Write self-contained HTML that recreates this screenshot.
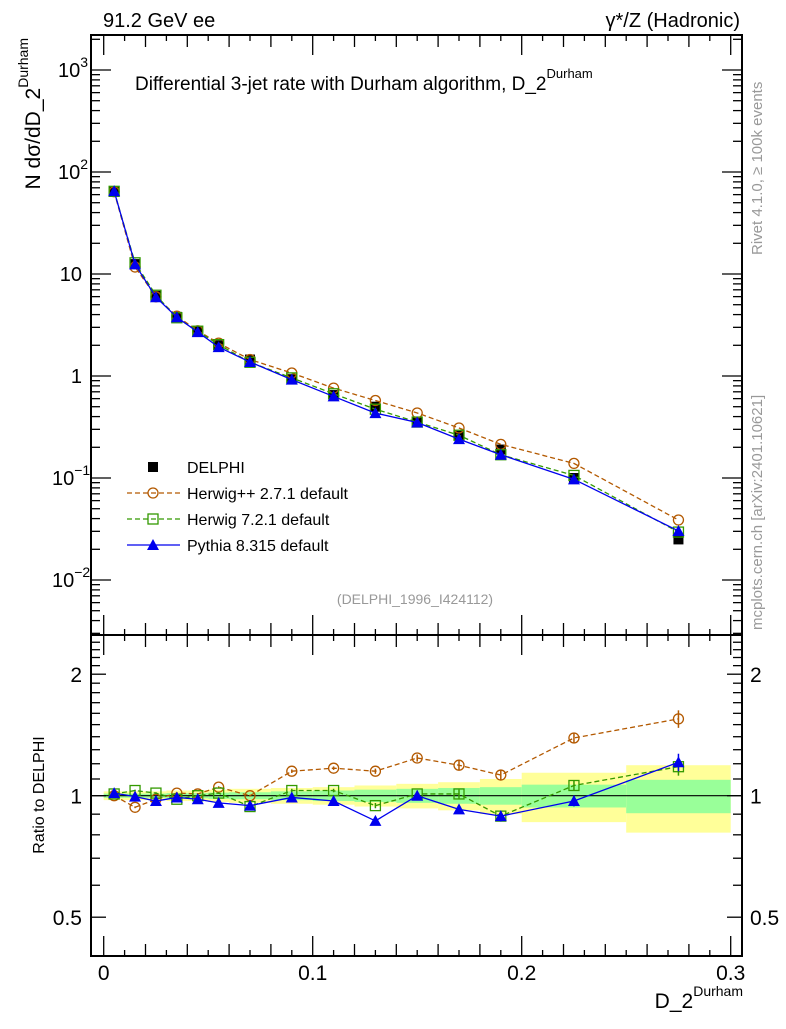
<!DOCTYPE html>
<html><head><meta charset="utf-8"><style>
body{margin:0;background:#fff}
svg text{font-family:"Liberation Sans",sans-serif}
</style></head><body>
<svg id="c" width="786" height="1024" xmlns="http://www.w3.org/2000/svg">
<g id="bands"></g>
<g id="marks"></g>
<g id="axes"></g>
<text x="103" y="27" font-size="20">91.2 GeV ee</text>
<text x="740" y="27" font-size="20" text-anchor="end">γ*/Z (Hadronic)</text>
<text x="135" y="90" font-size="19">Differential 3-jet rate with Durham algorithm, D_2<tspan dy="-12" font-size="13">Durham</tspan></text>
<text x="415" y="604" font-size="14" fill="#999" text-anchor="middle">(DELPHI_1996_I424112)</text>
<text transform="translate(40,38) rotate(-90)" font-size="21" text-anchor="end">N  dσ/dD_2<tspan dy="-12" font-size="14">Durham</tspan></text>
<text transform="translate(44,795) rotate(-90)" font-size="16" text-anchor="middle">Ratio to DELPHI</text>
<text x="743" y="1008" font-size="21" text-anchor="end">D_2<tspan dy="-12" font-size="14">Durham</tspan></text>
<text transform="translate(762,255) rotate(-90)" font-size="15" fill="#999">Rivet 4.1.0, ≥ 100k events</text>
<text transform="translate(762,630) rotate(-90)" font-size="15" fill="#999">mcplots.cern.ch [arXiv:2401.10621]</text>
<g id="legend"></g>
</svg>
<script>
const edges=[0,0.01,0.02,0.03,0.04,0.05,0.06,0.08,0.10,0.12,0.14,0.16,0.18,0.20,0.25,0.30];
const centers=[0.005,0.015,0.025,0.035,0.045,0.055,0.07,0.09,0.11,0.13,0.15,0.17,0.19,0.225,0.275];
const delphi=[64,12.5,6.1,3.8,2.75,2.0,1.45,0.93,0.65,0.50,0.35,0.26,0.19,0.10,0.025];
const ratioHpp=[1.0,0.936,0.98,1.015,1.01,1.05,1.0,1.15,1.17,1.15,1.24,1.19,1.125,1.39,1.55];
const ratioH7=[1.01,1.03,1.015,0.98,1.0,1.015,0.94,1.03,1.03,0.945,1.01,1.01,0.89,1.06,1.18];
const ratioPy=[1.015,0.995,0.97,0.99,0.98,0.96,0.945,0.99,0.97,0.866,1.0,0.925,0.89,0.97,1.21];
const bandYellow=[0.025,0.025,0.025,0.03,0.03,0.035,0.04,0.045,0.05,0.06,0.07,0.08,0.1,0.14,0.19];
const bandGreen=[0.012,0.012,0.012,0.015,0.015,0.018,0.02,0.025,0.03,0.035,0.04,0.045,0.05,0.065,0.095];
const errRatio=[0.005,0.005,0.005,0.005,0.005,0.005,0.005,0.01,0.01,0.015,0.02,0.025,0.03,0.03,0.05];

const NS="http://www.w3.org/2000/svg";
const L=91,R=742,T=35,MB=635,RB=956;
const X=v=>103.7+v*2090;
const Y=v=>376-Math.log10(v)*102;
const YR=v=>795.7-Math.log2(v)*121.5;
function el(tag,attrs,parent){const e=document.createElementNS(NS,tag);for(const k in attrs)e.setAttribute(k,attrs[k]);parent.appendChild(e);return e;}
const bands=document.getElementById('bands'),marks=document.getElementById('marks'),axes=document.getElementById('axes'),leg=document.getElementById('legend');

for(let i=0;i<centers.length;i++){
  let r=el('rect',{x:X(edges[i]),width:X(edges[i+1])-X(edges[i]),y:YR(1+bandYellow[i]),height:YR(1-bandYellow[i])-YR(1+bandYellow[i]),fill:'#ffff99'},bands);
  
  
  let g=el('rect',{x:X(edges[i]),width:X(edges[i+1])-X(edges[i]),y:YR(1+bandGreen[i]),height:YR(1-bandGreen[i])-YR(1+bandGreen[i]),fill:'#99ff99'},bands);
  
  
}
el('line',{x1:L,x2:R,y1:YR(1),y2:YR(1),stroke:'#000','stroke-width':1.2},bands);

function marker(type,x,y,col,parent){
  let m;
  if(type==='circle')m=el('circle',{cx:x,cy:y,r:5,fill:'none',stroke:col,'stroke-width':1.3},parent);
  else if(type==='square')m=el('rect',{x:x-5,y:y-5,width:10,height:10,fill:'none',stroke:col,'stroke-width':1.3},parent);
  else if(type==='tri')m=el('path',{d:`M${x},${y-6}L${x+6},${y+5}L${x-6},${y+5}Z`,fill:col},parent);
  else m=el('rect',{x:x-5,y:y-5,width:10,height:10,fill:col},parent);
  return m;
}
const series=[
 {r:ratioHpp,col:'#b35900',type:'circle',dash:'5,3',name:'herwigpp'},
 {r:ratioH7,col:'#339900',type:'square',dash:'5,3',name:'herwig7'},
 {r:ratioPy,col:'#0000ee',type:'tri',dash:'',name:'pythia8'}];
delphi.forEach((v,i)=>{
  const m=marker('filled',X(centers[i]),Y(v),'#000',marks);
  
  
});
series.forEach(s=>{
  const main=centers.map((c,i)=>[X(c),Y(delphi[i]*s.r[i])]);
  const rat=centers.map((c,i)=>[X(c),YR(s.r[i])]);
  [main,rat].forEach((pts,k)=>{
    const p=el('polyline',{points:pts.map(q=>q.join(',')).join(' '),fill:'none',stroke:s.col,'stroke-width':1.3,'stroke-dasharray':s.dash},marks);
    
    
    pts.forEach((q,i)=>{
      if(k){const e=errRatio[i];el('line',{x1:q[0],x2:q[0],y1:YR(s.r[i]*(1+e)),y2:YR(s.r[i]*(1-e)),stroke:s.col,'stroke-width':1.5},marks);}
      const m=marker(s.type,q[0],q[1],s.col,marks);
      
      
    });
  });
});

el('rect',{x:L,y:T,width:R-L,height:MB-T,fill:'none',stroke:'#000','stroke-width':2},axes);
el('rect',{x:L,y:MB,width:R-L,height:RB-MB,fill:'none',stroke:'#000','stroke-width':2},axes);
for(let k=0;k<=30;k++){
  const v=k/100,x=X(v);if(x>R)break;
  const len=k%10===0?20:(k%2===0?12:6);
  [[T,1],[MB,-1],[MB,1],[RB,-1]].forEach(([y0,d])=>el('line',{x1:x,x2:x,y1:y0,y2:y0+d*len,stroke:'#000','stroke-width':1.3},axes));
  if(k%10===0){const t=el('text',{x:x,y:980,'font-size':21,'text-anchor':'middle'},axes);t.textContent=k===0?'0':(v.toFixed(1));}
}
const decLabels=[['10','3'],['10','2'],['10',''],['1',''],['10','−1'],['10','−2']];
const decVals=[1000,100,10,1,0.1,0.01];
for(let e=-3;e<=3;e++){
  for(let m=1;m<=9;m++){
    const v=m*Math.pow(10,e),y=Y(v);if(y<T||y>MB)continue;
    const len=m===1?20:9;
    el('line',{x1:L,x2:L+len,y1:y,y2:y,stroke:'#000','stroke-width':1.3},axes);
    el('line',{x1:R,x2:R-len,y1:y,y2:y,stroke:'#000','stroke-width':1.3},axes);
  }
}
decVals.forEach((v,i)=>{
  const t=el('text',{x:82,y:Y(v)+7,'font-size':20,'text-anchor':'end'},axes);
  const [b,s]=decLabels[i];
  if(s){t.textContent=b;const ts=el('tspan',{dy:-10,'font-size':14},t);ts.textContent=s;
    t.removeAttribute('text-anchor');t.setAttribute('x',s.length>1?52:58);}
  else t.textContent=b;
});
const rt=[0.4,0.5,0.6,0.7,0.8,0.9,1,1.1,1.2,1.3,1.4,1.5,1.6,1.7,1.8,1.9,2,2.1,2.2,2.3,2.4,2.5];
rt.forEach(v=>{const y=YR(v);if(y<MB||y>RB)return;const len=[0.5,1,2].includes(v)?15:9;
  el('line',{x1:L,x2:L+len,y1:y,y2:y,stroke:'#000','stroke-width':1.3},axes);
  el('line',{x1:R,x2:R-len,y1:y,y2:y,stroke:'#000','stroke-width':1.3},axes);});
[['2',2],['1',1],['0.5',0.5]].forEach(([s,v])=>{
  let t=el('text',{x:82,y:YR(v)+8,'font-size':21,'text-anchor':'end'},axes);t.textContent=s;
  t=el('text',{x:750,y:YR(v)+8,'font-size':21},axes);t.textContent=s;});
const items=[['filled','#000','','DELPHI'],['circle','#b35900','5,3','Herwig++ 2.7.1 default'],['square','#339900','5,3','Herwig 7.2.1 default'],['tri','#0000ee','','Pythia 8.315 default']];
items.forEach((it,i)=>{
  const y=467+i*26;
  if(i>0){el('line',{x1:127,x2:180,y1:y,y2:y,stroke:it[1],'stroke-width':1.3,'stroke-dasharray':it[2]},leg);}
  const m=marker(it[0],153,y,it[1],leg);
  
  
  const t=el('text',{x:187,y:y+6,'font-size':16},leg);t.textContent=it[3];
  
  
});
</script>
</body></html>
